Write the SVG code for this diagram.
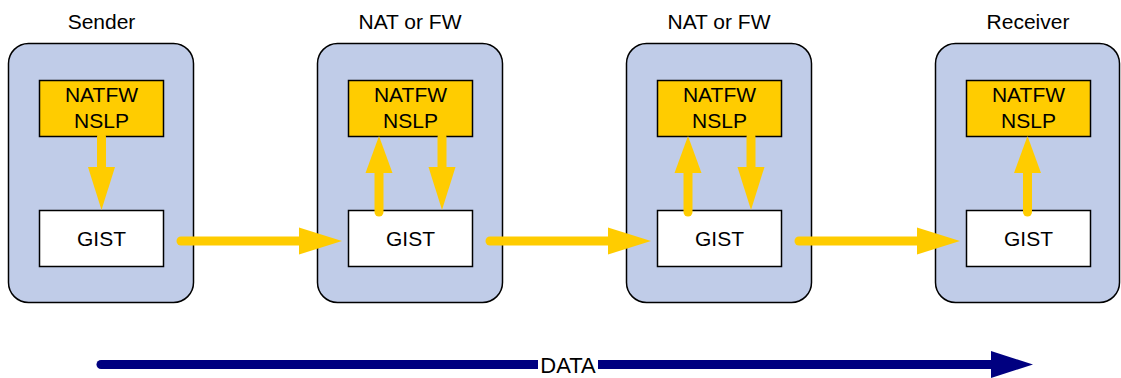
<svg xmlns="http://www.w3.org/2000/svg" width="1121" height="378" viewBox="0 0 1121 378">
<style>
.outer{fill:#C0CCE8;stroke:#000;stroke-width:1.5}
.nslp{fill:#FFCC00;stroke:#000;stroke-width:1.5}
.gist{fill:#fff;stroke:#000;stroke-width:1.5}
text{font-family:"Liberation Sans",Arial,sans-serif;fill:#000}
.t{font-size:21px;text-anchor:middle}
.b{font-size:21px;text-anchor:middle}
.y{stroke:#FFCC00;stroke-width:9;stroke-linecap:round;fill:none}
.n{stroke:#000080;stroke-width:9;stroke-linecap:round;fill:none}
</style>
<defs>
<marker id="yh" markerUnits="userSpaceOnUse" markerWidth="43" markerHeight="28" refX="0" refY="13.5" orient="auto" overflow="visible">
<path d="M0,0 L43,13.5 L0,27 z" fill="#FFCC00"/>
</marker>
<marker id="yu" markerUnits="userSpaceOnUse" markerWidth="37" markerHeight="28" refX="0" refY="13.5" orient="auto" overflow="visible">
<path d="M0,0 L37,13.5 L0,27 z" fill="#FFCC00"/>
</marker>
<marker id="nh" markerUnits="userSpaceOnUse" markerWidth="42" markerHeight="28" refX="0" refY="13.5" orient="auto" overflow="visible">
<path d="M0,0 L42,13.5 L0,27 z" fill="#000080"/>
</marker>
</defs>

<g id="sender">
<text class="t" x="101.5" y="28.5">Sender</text>
<rect class="outer" x="8.5" y="43.5" width="185" height="259" rx="20"/>
<g id="sender-nslp"><rect class="nslp" x="39.5" y="80.5" width="124" height="56"/>
<text class="b" x="101.5" y="102">NATFW</text><text class="b" x="101.5" y="128">NSLP</text></g>
<g id="sender-gist"><rect class="gist" x="39.5" y="210.5" width="124" height="56"/>
<text class="b" x="101.5" y="245.5">GIST</text></g>
</g>

<g id="nat1">
<text class="t" x="410" y="28.5">NAT or FW</text>
<rect class="outer" x="317.5" y="43.5" width="185" height="259" rx="20"/>
<g id="nat1-nslp"><rect class="nslp" x="348.5" y="80.5" width="124" height="56"/>
<text class="b" x="410.5" y="102">NATFW</text><text class="b" x="410.5" y="128">NSLP</text></g>
<g id="nat1-gist"><rect class="gist" x="348.5" y="210.5" width="124" height="56"/>
<text class="b" x="410.5" y="245.5">GIST</text></g>
</g>

<g id="nat2">
<text class="t" x="719" y="28.5">NAT or FW</text>
<rect class="outer" x="626.5" y="43.5" width="185" height="259" rx="20"/>
<g id="nat2-nslp"><rect class="nslp" x="657.5" y="80.5" width="124" height="56"/>
<text class="b" x="719.5" y="102">NATFW</text><text class="b" x="719.5" y="128">NSLP</text></g>
<g id="nat2-gist"><rect class="gist" x="657.5" y="210.5" width="124" height="56"/>
<text class="b" x="719.5" y="245.5">GIST</text></g>
</g>

<g id="receiver">
<text class="t" x="1028" y="28.5">Receiver</text>
<rect class="outer" x="935.5" y="43.5" width="184" height="259" rx="20"/>
<g id="receiver-nslp"><rect class="nslp" x="966.5" y="80.5" width="124" height="56"/>
<text class="b" x="1028.5" y="102">NATFW</text><text class="b" x="1028.5" y="128">NSLP</text></g>
<g id="receiver-gist"><rect class="gist" x="966.5" y="210.5" width="124" height="56"/>
<text class="b" x="1028.5" y="245.5">GIST</text></g>
</g>

<g id="connectors">
<path class="y" d="M101.5,137 V167" stroke-linecap="butt" marker-end="url(#yh)"/>
<path class="y" d="M379,212 V173" marker-end="url(#yu)"/>
<path class="y" d="M442,137 V167" stroke-linecap="butt" marker-end="url(#yh)"/>
<path class="y" d="M688,212 V173" marker-end="url(#yu)"/>
<path class="y" d="M751,137 V167" stroke-linecap="butt" marker-end="url(#yh)"/>
<path class="y" d="M1027.5,212 V173" marker-end="url(#yu)"/>
<path class="y" d="M181,241 H299" marker-end="url(#yh)"/>
<path class="y" d="M490,241 H608" marker-end="url(#yh)"/>
<path class="y" d="M799,241 H917" marker-end="url(#yh)"/>
<path class="n" d="M101,364.5 H991" marker-end="url(#nh)"/>
<rect x="538" y="352" width="60" height="24" fill="#fff"/>
<text x="568" y="373" font-size="22" text-anchor="middle">DATA</text>
</g>
</svg>
